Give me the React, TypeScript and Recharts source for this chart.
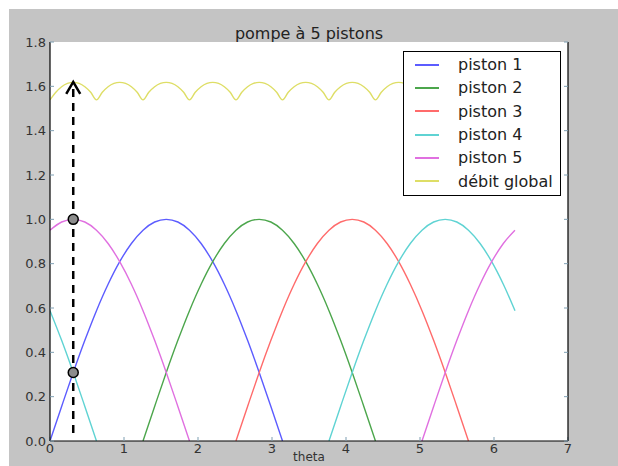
import React from "react";
import {
  LineChart,
  Line,
  XAxis,
  YAxis,
  CartesianGrid,
  ReferenceLine,
  ReferenceDot,
} from "recharts";

// theta grid for pistons (step pi/20)
const thetaP = [
  0, 0.157, 0.314, 0.471, 0.628, 0.785, 0.942, 1.1, 1.257, 1.414, 1.571, 1.728, 1.885, 2.042,
  2.199, 2.356, 2.513, 2.67, 2.827, 2.985, 3.142, 3.299, 3.456, 3.613, 3.77, 3.927, 4.084,
  4.241, 4.398, 4.555, 4.712, 4.869, 5.027, 5.184, 5.341, 5.498, 5.655, 5.812, 5.969, 6.126,
  6.283,
];

const N = null;

const piston1 = [
  0, 0.156, 0.309, 0.454, 0.588, 0.707, 0.809, 0.891, 0.951, 0.988, 1, 0.988, 0.951, 0.891,
  0.809, 0.707, 0.588, 0.454, 0.309, 0.156, 0,
  N, N, N, N, N, N, N, N, N, N, N, N, N, N, N, N, N, N, N, N,
];
const piston2 = [
  N, N, N, N, N, N, N, N,
  0, 0.156, 0.309, 0.454, 0.588, 0.707, 0.809, 0.891, 0.951, 0.988, 1, 0.988, 0.951, 0.891,
  0.809, 0.707, 0.588, 0.454, 0.309, 0.156, 0,
  N, N, N, N, N, N, N, N, N, N, N, N,
];
const piston3 = [
  N, N, N, N, N, N, N, N, N, N, N, N, N, N, N, N,
  0, 0.156, 0.309, 0.454, 0.588, 0.707, 0.809, 0.891, 0.951, 0.988, 1, 0.988, 0.951, 0.891,
  0.809, 0.707, 0.588, 0.454, 0.309, 0.156, 0,
  N, N, N, N,
];
const piston4 = [
  0.588, 0.454, 0.309, 0.156, 0,
  N, N, N, N, N, N, N, N, N, N, N, N, N, N, N, N, N, N, N,
  0, 0.156, 0.309, 0.454, 0.588, 0.707, 0.809, 0.891, 0.951, 0.988, 1, 0.988, 0.951, 0.891,
  0.809, 0.707, 0.588,
];
const piston5 = [
  0.951, 0.988, 1, 0.988, 0.951, 0.891, 0.809, 0.707, 0.588, 0.454, 0.309, 0.156, 0,
  N, N, N, N, N, N, N, N, N, N, N, N, N, N, N, N, N, N, N,
  0, 0.156, 0.309, 0.454, 0.588, 0.707, 0.809, 0.891, 0.951,
];

// theta grid for the global flow (step pi/40)
const thetaG = [
  0, 0.079, 0.157, 0.236, 0.314, 0.393, 0.471, 0.55, 0.628, 0.707, 0.785, 0.864, 0.942, 1.021,
  1.1, 1.178, 1.257, 1.335, 1.414, 1.492, 1.571, 1.649, 1.728, 1.806, 1.885, 1.963, 2.042,
  2.121, 2.199, 2.278, 2.356, 2.435, 2.513, 2.592, 2.67, 2.749, 2.827, 2.906, 2.985, 3.063,
  3.142, 3.22, 3.299, 3.377, 3.456, 3.534, 3.613, 3.691, 3.77, 3.848, 3.927, 4.006, 4.084,
  4.163, 4.241, 4.32, 4.398, 4.477, 4.555, 4.634, 4.712, 4.791, 4.869, 4.948, 5.027, 5.105,
  5.184, 5.262, 5.341, 5.419, 5.498, 5.576, 5.655, 5.733, 5.812, 5.89, 5.969, 6.048, 6.126,
  6.205, 6.283,
];
const debitGlobal = [
  1.539, 1.573, 1.598, 1.613, 1.618, 1.613, 1.598, 1.573,
  1.539, 1.573, 1.598, 1.613, 1.618, 1.613, 1.598, 1.573,
  1.539, 1.573, 1.598, 1.613, 1.618, 1.613, 1.598, 1.573,
  1.539, 1.573, 1.598, 1.613, 1.618, 1.613, 1.598, 1.573,
  1.539, 1.573, 1.598, 1.613, 1.618, 1.613, 1.598, 1.573,
  1.539, 1.573, 1.598, 1.613, 1.618, 1.613, 1.598, 1.573,
  1.539, 1.573, 1.598, 1.613, 1.618, 1.613, 1.598, 1.573,
  1.539, 1.573, 1.598, 1.613, 1.618, 1.613, 1.598, 1.573,
  1.539, 1.573, 1.598, 1.613, 1.618, 1.613, 1.598, 1.573,
  1.539, 1.573, 1.598, 1.613, 1.618, 1.613, 1.598, 1.573,
  1.539,
];

const xTicks = [0, 1, 2, 3, 4, 5, 6, 7];
const yTicks = [0, 0.2, 0.4, 0.6, 0.8, 1.0, 1.2, 1.4, 1.6, 1.8];

// annotation (arrow + marked points)
const annotTheta = 0.314;
const arrowFrom = 0;
const arrowTo = 1.62;
const markedPoints = [1.0, 0.309];

const seriesNames = ["piston 1", "piston 2", "piston 3", "piston 4", "piston 5", "débit global"];
const seriesColors = ["#5c5cff", "#4ca64c", "#ff6b6b", "#5fd3d3", "#e070e0", "#dede66"];

const toRows = (xs: number[], ys: (number | null)[]) => xs.map((x, i) => ({ x, y: ys[i] }));

const seriesData = [
  toRows(thetaP, piston1),
  toRows(thetaP, piston2),
  toRows(thetaP, piston3),
  toRows(thetaP, piston4),
  toRows(thetaP, piston5),
  toRows(thetaG, debitGlobal),
];

const FONT = "DejaVu Sans";
const tickColor = "#7f9fb3";

const arrowShape = (p: any) => {
  const { x1, y1, x2, y2 } = p;
  const top = Math.min(y1, y2);
  const bottom = Math.max(y1, y2);
  return (
    <g>
      <line x1={x1} y1={bottom - 8} x2={x1} y2={top + 2} stroke="#000" strokeWidth={2.5} strokeDasharray="8 6" />
      <polyline
        points={`${x1 - 7},${top + 12} ${x1},${top} ${x1 + 7},${top + 12}`}
        fill="none"
        stroke="#000"
        strokeWidth={2.5}
      />
    </g>
  );
};

export default function App() {
  return (
    <div style={{ position: "absolute", left: 0, top: 0, width: 618, height: 466, background: "#fff", overflow: "hidden" }}>
      <div style={{ position: "absolute", left: 9, top: 9, width: 609, height: 457, background: "#c4c4c4" }} />
      <div
        style={{
          position: "absolute",
          left: 0,
          width: 618,
          top: 24,
          textAlign: "center",
          fontFamily: FONT,
          fontSize: 16,
          color: "#222",
        }}
      >
        pompe à 5 pistons
      </div>
      <div style={{ position: "absolute", left: 0, top: 0 }}>
        <LineChart width={618} height={466} margin={{ top: 42, right: 0, bottom: 0, left: 0 }}>
          <CartesianGrid horizontal={false} vertical={false} fill="#ffffff" xAxisId="b" yAxisId="l" />
          <XAxis
            xAxisId="b"
            type="number"
            dataKey="x"
            domain={[0, 7]}
            ticks={xTicks}
            height={25}
            allowDataOverflow
            axisLine={{ stroke: "#000", strokeWidth: 1.2 }}
            tickLine={{ stroke: tickColor }}
            tickSize={-4}
            tickMargin={7}
            tick={{ fill: "#333", fontSize: 13, fontFamily: FONT }}
          />
          <XAxis
            xAxisId="t"
            orientation="top"
            type="number"
            domain={[0, 7]}
            ticks={xTicks}
            height={0}
            allowDataOverflow
            axisLine={{ stroke: "#000", strokeWidth: 1.2 }}
            tickLine={{ stroke: tickColor }}
            tickSize={-4}
            tick={() => null}
          />
          <YAxis
            yAxisId="l"
            type="number"
            domain={[0, 1.8]}
            ticks={yTicks}
            width={50}
            allowDataOverflow
            axisLine={{ stroke: "#000", strokeWidth: 1.2 }}
            tickLine={{ stroke: tickColor }}
            tickSize={-4}
            tickMargin={8}
            tickFormatter={(v: number) => v.toFixed(1)}
            tick={{ fill: "#333", fontSize: 13, fontFamily: FONT }}
          />
          <YAxis
            yAxisId="r"
            orientation="right"
            type="number"
            domain={[0, 1.8]}
            ticks={yTicks}
            width={50}
            allowDataOverflow
            axisLine={{ stroke: "#000", strokeWidth: 1.2 }}
            tickLine={{ stroke: tickColor }}
            tickSize={-4}
            tick={() => null}
          />
          {seriesData.map((d, i) => (
            <Line
              key={seriesNames[i]}
              xAxisId="b"
              yAxisId="l"
              data={d}
              dataKey="y"
              name={seriesNames[i]}
              type="monotone"
              stroke={seriesColors[i]}
              strokeWidth={1.4}
              dot={false}
              activeDot={false}
              isAnimationActive={false}
            />
          ))}
          <ReferenceLine
            xAxisId="b"
            yAxisId="l"
            segment={[
              { x: annotTheta, y: arrowFrom },
              { x: annotTheta, y: arrowTo },
            ]}
            shape={arrowShape}
          />
          {markedPoints.map((v) => (
            <ReferenceDot
              key={v}
              xAxisId="b"
              yAxisId="l"
              x={annotTheta}
              y={v}
              r={5}
              fill="#8c8c8c"
              stroke="#000"
              strokeWidth={1.5}
            />
          ))}
        </LineChart>
      </div>
      <div
        style={{
          position: "absolute",
          left: 403,
          top: 51,
          width: 158,
          height: 145,
          boxSizing: "border-box",
          background: "#fff",
          border: "1.2px solid #000",
          paddingTop: 1,
          fontFamily: FONT,
          fontSize: 16,
          color: "#222",
        }}
      >
        {seriesNames.map((n, i) => (
          <div key={n} style={{ height: 23.3, display: "flex", alignItems: "center" }}>
            <div style={{ marginLeft: 11, width: 24, height: 0, borderTop: `2px solid ${seriesColors[i]}` }} />
            <div style={{ marginLeft: 19, whiteSpace: "nowrap" }}>{n}</div>
          </div>
        ))}
      </div>
      <div
        style={{
          position: "absolute",
          left: 0,
          width: 618,
          top: 450,
          lineHeight: "15px",
          textAlign: "center",
          fontFamily: FONT,
          fontSize: 12,
          color: "#333",
        }}
      >
        theta
      </div>
    </div>
  );
}
